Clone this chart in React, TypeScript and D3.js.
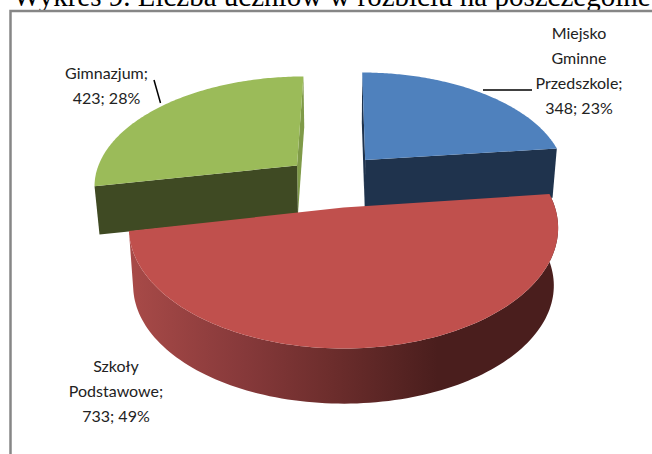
import React from "react";
import * as d3 from "d3";

const categories = ["Miejsko Gminne Przedszkole", "Szkoły Podstawowe", "Gimnazjum"];
const values = [348, 733, 423];
const labelLines = [
  ["Miejsko", "Gminne", "Przedszkole;", "348; 23%"],
  ["Szkoły", "Podstawowe;", "733; 49%"],
  ["Gimnazjum;", "423; 28%"],
];
const labelAnchors: [number, number][] = [[579, 39], [116, 372], [106.5, 79]];
const topColors = ["#4f81bd", "#c0504d", "#9bbb59"];
const sideColors = ["#1f334d", "url(#redSide)", "#3f4a23"];
const innerColors = ["#1f334d", "#4a1e1d", "#7f9a48"];
const explode: [number, number][] = [[0.11, 0.435], [0, 0], [-0.234, 0.383]];
const depths = [48, 58, 48];
const leaders: [number, number, number, number][] = [[483, 90, 532, 90], [154, 80, 160.5, 103]];

const W = 652, H = 454;
const cx = 343.5, cy = 207.5, rx = 211.5, ry = 117, k = 0.17, shrink = 0.98;

function project(angle: number, r: number, ex: number, ev: number, low: number): [number, number] {
  const u = ex + r * Math.sin(angle);
  const v = ev + r * Math.cos(angle);
  const s = (1 / (1 + k * v)) * (low > 0 ? shrink : 1);
  return [cx + rx * u * s, cy + low - ry * v * s];
}

const line = d3.line<[number, number]>();
const pie = d3.pie<number>().sort(null)(values);

export default function App() {
  const shapes = pie.map((d, i) => {
    const [ex, ev] = explode[i];
    const dp = depths[i];
    const angles = d3.range(0, 121).map((t) => d.startAngle + ((d.endAngle - d.startAngle) * t) / 120);
    const rimTop = angles.map((a) => project(a, 1, ex, ev, 0));
    const rimLow = angles.map((a) => project(a, 1, ex, ev, dp));
    const apexTop = project(0, 0, ex, ev, 0);
    const apexLow = project(0, 0, ex, ev, dp);
    return {
      top: line([apexTop, ...rimTop]) + "Z",
      outer: line([...rimTop, ...[...rimLow].reverse()]) + "Z",
      faceA: line([apexTop, rimTop[0], rimLow[0], apexLow]) + "Z",
      faceB: line([apexTop, rimTop[120], rimLow[120], apexLow]) + "Z",
    };
  });
  return (
    <svg width={W} height={H} style={{ position: "absolute", left: 0, top: 0, background: "#fff" }}>
      <defs>
        <linearGradient id="redSide" gradientUnits="userSpaceOnUse" x1="130" x2="557" y1="0" y2="0">
          <stop offset="0" stopColor="#a84a48" />
          <stop offset="0.27" stopColor="#86393a" />
          <stop offset="0.46" stopColor="#6e2e2d" />
          <stop offset="0.72" stopColor="#4a1e1d" />
          <stop offset="1" stopColor="#4a1e1d" />
        </linearGradient>
      </defs>
      <text x={13} y={6} fontFamily="Liberation Serif" fontSize={29}>
        Wykres 9. Liczba uczniów w rozbiciu na poszczególne
      </text>
      <path d={`M10.5 ${H}V11H${W}`} fill="none" stroke="#868686" strokeWidth={2.5} />
      <path d={shapes[2].faceB} fill={innerColors[2]} />
      <path d={shapes[2].faceA} fill={sideColors[2]} />
      <path d={shapes[2].top} fill={topColors[2]} />
      <path d={shapes[0].faceA} fill={innerColors[0]} />
      <path d={shapes[0].faceB} fill={sideColors[0]} />
      <path d={shapes[0].top} fill={topColors[0]} />
      <path d={shapes[1].outer} fill={sideColors[1]} />
      <path d={shapes[1].top} fill={topColors[1]} />
      {leaders.map(([x1, y1, x2, y2], i) => (
        <line key={i} x1={x1} y1={y1} x2={x2} y2={y2} stroke="#000" strokeWidth={1.5} />
      ))}
      {labelLines.map((lines, i) => (
        <text key={categories[i]} textAnchor="middle" fontFamily="Lato" fontSize={16} fill="#222">
          {lines.map((t, j) => (
            <tspan key={j} x={labelAnchors[i][0]} y={labelAnchors[i][1] + j * 25}>
              {t}
            </tspan>
          ))}
        </text>
      ))}
    </svg>
  );
}
